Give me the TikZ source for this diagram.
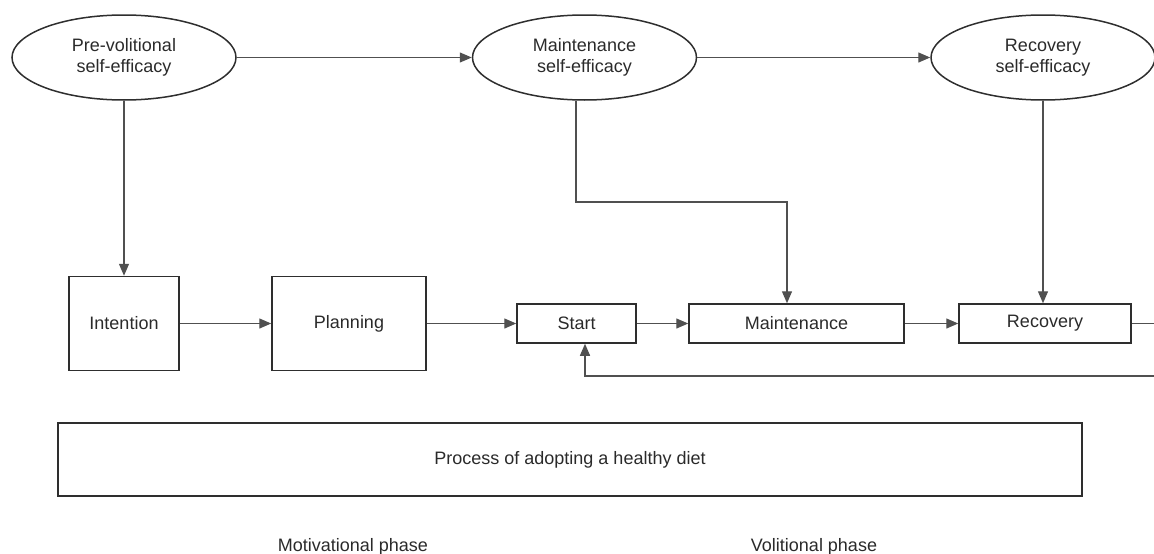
\documentclass[tikz,border=0pt]{standalone}
\usepackage{fontspec}
\setmainfont{Liberation Sans}
\usetikzlibrary{shapes.geometric,arrows.meta}
\definecolor{boxline}{HTML}{2E2E2E}
\definecolor{conn}{HTML}{505050}
\definecolor{txt}{HTML}{2A2A2A}
\begin{document}
\begin{tikzpicture}[x=1pt,y=-1pt,
  every node/.style={text=txt,font=\fontsize{18}{21}\selectfont},
  oval/.style={ellipse,draw=boxline,line width=1.5pt,minimum width=224pt,minimum height=85pt,inner sep=0pt,align=center},
  box/.style={rectangle,draw=boxline,line width=1.5pt,inner sep=0pt},
  conn/.style={draw=conn,line width=1.3pt,-{Triangle[length=12pt,width=10pt]}},
  plain/.style={draw=conn,line width=1.3pt}]
\useasboundingbox (0,0) rectangle (1154,554);
% ellipses
\node[oval] (pse) at (124,57.5) {Pre-volitional\\self-efficacy};
\node[oval] (mse) at (584.5,57.5) {Maintenance\\self-efficacy};
\node[oval] (rse) at (1043,57.5) {Recovery\\self-efficacy};
% boxes
\node[box,minimum width=110pt,minimum height=94pt] (int) at (124,323.5) {Intention};
\node[box,minimum width=154pt,minimum height=94pt] (pla) at (349,323.5) {Planning};
\node[box,minimum width=119pt,minimum height=39pt] (sta) at (576.5,323.5) {Start};
\node[box,minimum width=215pt,minimum height=39pt] (mai) at (796.5,323.5) {Maintenance};
\node[box,minimum width=172pt,minimum height=39pt] (rec) at (1045,323.5) {Recovery};
\node[box,minimum width=1024pt,minimum height=73pt] (proc) at (570,459.5) {Process of adopting a healthy diet};
% phase labels
\node[anchor=base] (mot) at (353,551) {Motivational phase};
\node[anchor=base] (vol) at (814,551) {Volitional phase};
% connectors
\draw[conn] (pse.east) -- (mse.west);
\draw[conn] (mse.east) -- (rse.west);
\draw[conn] (pse.south) -- (int.north);
\draw[conn] (int.east) -- (pla.west);
\draw[conn] (pla.east) -- (sta.west);
\draw[conn] (sta.east) -- (mai.west);
\draw[conn] (mai.east) -- (rec.west);
\coordinate (mbend1) at (576,202);
\coordinate (mbend2) at (787,202);
\draw[conn] ([xshift=-8.5pt]mse.south) -- (mbend1) -- (mbend2) -- (mbend2 |- mai.north);
\draw[conn] (rse.south) -- (rse.south |- rec.north);
\coordinate (fb1) at (1156,323.5);
\coordinate (fb2) at (1156,376);
\coordinate (fb3) at (585,376);
\draw[conn] (rec.east) -- (fb1) -- (fb2) -- (fb3) -- (fb3 |- sta.south);
\end{tikzpicture}
\end{document}
